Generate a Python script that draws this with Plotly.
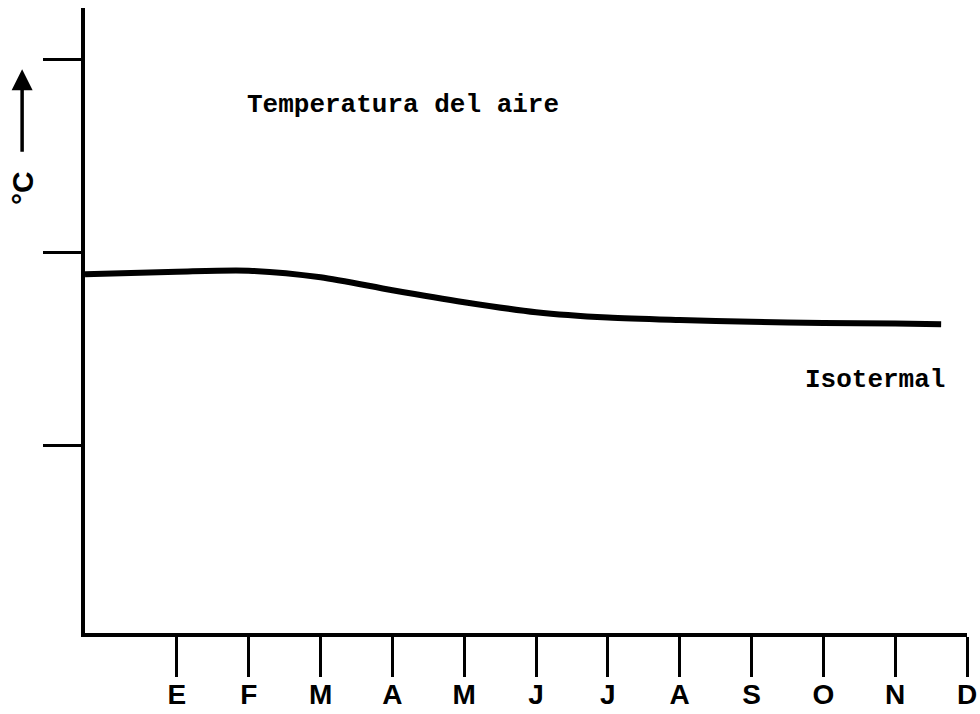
import plotly.graph_objects as go

# Data
months = ["E", "F", "M", "A", "M", "J", "J", "A", "S", "O", "N", "D"]
month_pos = [1, 2, 3, 4, 5, 6, 7, 8, 9, 10, 11, 12]
y_ticks = [1, 2, 3]
curve_x = [-0.28, 1, 2, 3, 4, 5, 6, 7, 8, 9, 10, 11, 11.64]
curve_y = [1.886, 1.900, 1.905, 1.871, 1.804, 1.742, 1.690, 1.662, 1.649, 1.640, 1.634, 1.631, 1.628]

fig = go.Figure()
fig.add_trace(go.Scatter(
    x=curve_x, y=curve_y, mode="lines",
    line=dict(color="black", width=6, shape="spline", smoothing=0.8),
    showlegend=False, hoverinfo="skip",
))

mono = "Liberation Mono"
fig.add_annotation(x=1.95, y=2.765, xref="x", yref="y", text="Temperatura del aire",
                   showarrow=False, xanchor="left", yanchor="middle",
                   font=dict(family=mono, size=26, color="black", weight="bold"))
fig.add_annotation(x=9.71, y=1.339, xref="x", yref="y", text="Isotermal",
                   showarrow=False, xanchor="left", yanchor="middle",
                   font=dict(family=mono, size=26, color="black", weight="bold"))

# y-axis label: °C with upward arrow
fig.add_annotation(x=-0.0713, y=0.712, xref="paper", yref="paper", text="°C",
                   showarrow=False, textangle=-90, xanchor="center", yanchor="middle",
                   font=dict(family="Liberation Sans", size=30, color="black", weight="bold"))
fig.add_annotation(x=-0.0713, y=0.902, xref="paper", yref="paper", text="",
                   showarrow=True, ax=0, ay=84, arrowhead=2, arrowsize=1.2, arrowwidth=3.5,
                   arrowcolor="black")

fig.update_layout(
    width=980, height=714,
    margin=dict(l=85, r=13, t=8, b=81, autoexpand=False),
    paper_bgcolor="white", plot_bgcolor="white",
    xaxis=dict(range=[-0.28, 12.0], tickvals=month_pos, ticktext=months,
               showline=True, linecolor="black", linewidth=4,
               ticks="outside", ticklen=40, tickwidth=3, tickcolor="black",
               showgrid=False, zeroline=False, ticklabelstandoff=-7, automargin=False,
               tickfont=dict(family="Liberation Sans", size=28, color="black", weight="bold")),
    yaxis=dict(range=[0.028, 3.266], tickvals=y_ticks, showticklabels=False,
               showline=True, linecolor="black", linewidth=4, automargin=False,
               ticks="outside", ticklen=38, tickwidth=3, tickcolor="black",
               showgrid=False, zeroline=False),
)

fig.write_html("out.html", config={"displayModeBar": False},
               post_script="document.body.style.margin='0';document.body.style.overflow='hidden';")
